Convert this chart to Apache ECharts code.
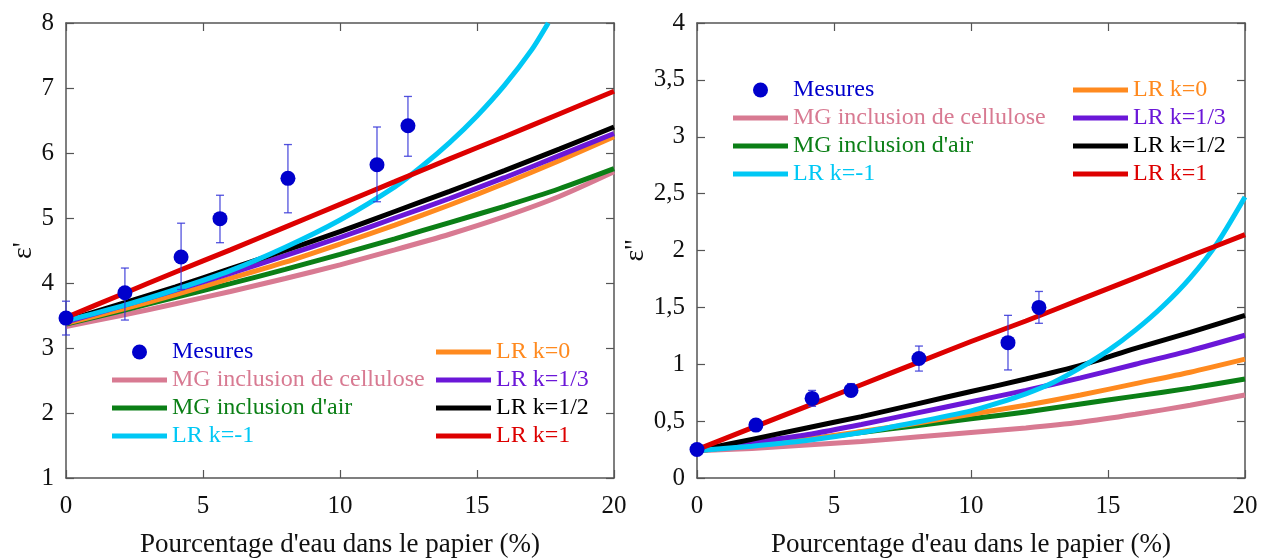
<!DOCTYPE html>
<html>
<head>
<meta charset="utf-8">
<script src="https://cdn.jsdelivr.net/npm/echarts@6/dist/echarts.min.js"></script>
<style>
html,body{margin:0;padding:0;background:#fff;}
#chart{width:1264px;height:558px;}
</style>
</head>
<body>
<div id="chart"></div>
<script>
// ---------- DATA ----------
const xTicks = [0, 5, 10, 15, 20];
const xCurve = [0, 2, 4, 6, 8, 10, 12, 14, 16, 18, 20];

// Measurements: water content (%)
const mesX = [0, 2.15, 4.2, 5.62, 8.1, 11.35, 12.48];
// Left panel: epsilon'
const epsRe = [3.46, 3.85, 4.40, 4.99, 5.61, 5.82, 6.42];
const epsReLo = [3.20, 3.43, 3.90, 4.62, 5.08, 5.25, 5.95];
const epsReHi = [3.72, 4.23, 4.92, 5.35, 6.13, 6.40, 6.87];
// Right panel: epsilon''
const epsIm = [0.25, 0.465, 0.70, 0.77, 1.05, 1.19, 1.50];
const epsImLo = [0.25, 0.43, 0.63, 0.72, 0.94, 0.95, 1.36];
const epsImHi = [0.25, 0.50, 0.77, 0.83, 1.16, 1.43, 1.64];

// Model curves, left panel (epsilon') at xCurve
const reMGcell = [3.33, 3.50, 3.68, 3.87, 4.07, 4.28, 4.51, 4.75, 5.02, 5.33, 5.71];
const reMGair  = [3.37, 3.57, 3.78, 3.99, 4.21, 4.44, 4.68, 4.93, 5.18, 5.45, 5.76];
const reLR0    = [3.38, 3.59, 3.82, 4.07, 4.32, 4.60, 4.89, 5.20, 5.53, 5.88, 6.25];
const reLR13   = [3.40, 3.64, 3.89, 4.15, 4.42, 4.70, 5.00, 5.30, 5.62, 5.96, 6.30];
const reLR12   = [3.42, 3.68, 3.94, 4.22, 4.50, 4.79, 5.10, 5.41, 5.73, 6.06, 6.40];
const reLR1    = [3.47, 3.82, 4.17, 4.51, 4.86, 5.21, 5.56, 5.91, 6.25, 6.60, 6.95];
const reLRm1X  = [0, 2, 4, 6, 8, 10, 12, 13, 14, 15, 16, 17, 17.6];
const reLRm1   = [3.42, 3.64, 3.90, 4.19, 4.55, 4.97, 5.48, 5.80, 6.16, 6.57, 7.04, 7.59, 8.0];

// Model curves, right panel (epsilon'')
const imMGcell = [0.24, 0.26, 0.29, 0.32, 0.36, 0.40, 0.44, 0.49, 0.56, 0.64, 0.73];
const imMGair  = [0.24, 0.29, 0.34, 0.40, 0.46, 0.52, 0.58, 0.65, 0.72, 0.79, 0.87];
const imLR0    = [0.24, 0.29, 0.34, 0.41, 0.48, 0.56, 0.64, 0.73, 0.83, 0.93, 1.045];
const imLR13   = [0.24, 0.31, 0.38, 0.47, 0.57, 0.67, 0.77, 0.88, 1.00, 1.12, 1.255];
const imLR12   = [0.24, 0.34, 0.44, 0.54, 0.65, 0.76, 0.87, 0.99, 1.14, 1.28, 1.43];
const imLR1    = [0.25, 0.44, 0.63, 0.82, 1.01, 1.20, 1.38, 1.57, 1.76, 1.95, 2.14];
const imLRm1X  = [0, 2, 4, 6, 8, 10, 11, 12, 13, 14, 15, 16, 17, 18, 19, 20];
const imLRm1   = [0.24, 0.28, 0.33, 0.40, 0.49, 0.59, 0.66, 0.74, 0.84, 0.97, 1.12, 1.30, 1.51, 1.76, 2.07, 2.47];

const names = {
  mes: 'Mesures', cell: 'MG inclusion de cellulose', air: "MG inclusion d'air",
  m1: 'LR k=-1', k0: 'LR k=0', k13: 'LR k=1/3', k12: 'LR k=1/2', k1: 'LR k=1'
};
const colors = {
  mes: '#0000CC', cell: '#D87A92', air: '#0B7F16', m1: '#00C8F5',
  k0: '#FF8A1F', k13: '#6B17D8', k12: '#000000', k1: '#DD0000'
};

// ---------- BUILD ----------
const FONT = 'Liberation Serif';
const zip = (xs, ys) => xs.map((x, i) => [x, ys[i]]);

function lineSeries(key, xs, ys, gi) {
  return {
    name: names[key], type: 'line', xAxisIndex: gi * 2, yAxisIndex: gi * 2,
    data: zip(xs, ys), showSymbol: false, symbol: 'none', smooth: 0.25,
    lineStyle: { color: colors[key], width: 5 }, itemStyle: { color: colors[key] },
    clip: true, animation: false, z: 2
  };
}
function errSeries(xs, lo, hi, gi) {
  return {
    type: 'custom', xAxisIndex: gi * 2, yAxisIndex: gi * 2, animation: false, z: 3,
    data: xs.map((x, i) => [x, lo[i], hi[i]]),
    renderItem: function (params, api) {
      const p1 = api.coord([api.value(0), api.value(1)]);
      const p2 = api.coord([api.value(0), api.value(2)]);
      const w = 4;
      const st = { stroke: '#3535D8', lineWidth: 1.3, opacity: 0.85 };
      return {
        type: 'group', children: [
          { type: 'line', shape: { x1: p1[0], y1: p1[1], x2: p2[0], y2: p2[1] }, style: st },
          { type: 'line', shape: { x1: p1[0] - w, y1: p1[1], x2: p1[0] + w, y2: p1[1] }, style: st },
          { type: 'line', shape: { x1: p2[0] - w, y1: p2[1], x2: p2[0] + w, y2: p2[1] }, style: st }
        ]
      };
    }
  };
}
function scatterSeries(xs, ys, gi) {
  return {
    name: names.mes, type: 'scatter', xAxisIndex: gi * 2, yAxisIndex: gi * 2,
    data: zip(xs, ys), symbol: 'circle', symbolSize: 15,
    itemStyle: { color: colors.mes, opacity: 1 }, animation: false, z: 4
  };
}

const axisLine = { show: true, onZero: false, lineStyle: { color: '#555', width: 1.5 } };
const tick = { show: true, inside: true, length: 8, lineStyle: { color: '#555', width: 1.2 } };
const labelStyle = { color: '#111', fontSize: 25, fontFamily: FONT };

function xAxes(gi) {
  return [
    { gridIndex: gi, type: 'value', min: 0, max: 20, interval: 5, position: 'bottom',
      axisLine: axisLine, axisTick: tick, splitLine: { show: false },
      axisLabel: Object.assign({ margin: 16 }, labelStyle),
      name: "Pourcentage d'eau dans le papier (%)", nameLocation: 'middle', nameGap: 53,
      nameTextStyle: { color: '#111', fontSize: 27, fontFamily: FONT } },
    { gridIndex: gi, type: 'value', min: 0, max: 20, interval: 5, position: 'top',
      axisLine: axisLine, axisTick: tick, axisLabel: { show: false }, splitLine: { show: false } }
  ];
}
function yAxes(gi, min, max, interval, name, fmt, gap) {
  return [
    { gridIndex: gi, type: 'value', min: min, max: max, interval: interval, position: 'left',
      axisLine: axisLine, axisTick: tick, splitLine: { show: false },
      axisLabel: Object.assign({ margin: 12, formatter: fmt }, labelStyle),
      name: name, nameLocation: 'middle', nameRotate: 90, nameGap: gap,
      nameTextStyle: { color: '#111', fontSize: 28, fontFamily: FONT } },
    { gridIndex: gi, type: 'value', min: min, max: max, interval: interval, position: 'right',
      axisLine: axisLine, axisTick: tick, axisLabel: { show: false }, splitLine: { show: false } }
  ];
}

const lineIcon = 'path://M0,0h55v5h-55z';
function legend(keys, left, top) {
  return {
    orient: 'vertical', left: left, top: top, itemWidth: 55, itemHeight: 15, itemGap: 4,
    padding: 0, selectedMode: false,
    textStyle: { fontSize: 24, fontFamily: FONT },
    data: keys.map(k => ({
      name: names[k], icon: k === 'mes' ? 'circle' : lineIcon,
      textStyle: { color: colors[k], fontSize: 24, fontFamily: FONT }
    }))
  };
}

const option = {
  backgroundColor: '#fff',
  animation: false,
  textStyle: { fontFamily: FONT },
  grid: [
    { left: 66, top: 23, width: 548, height: 455, show: false, outerBoundsMode: 'none', containLabel: false },
    { left: 697, top: 23, width: 548, height: 455, show: false, outerBoundsMode: 'none', containLabel: false }
  ],
  xAxis: xAxes(0).concat(xAxes(1)),
  yAxis: yAxes(0, 1, 8, 1, "ε'", v => String(v), 28)
    .concat(yAxes(1, 0, 4, 0.5, "ε''", v => String(v).replace('.', ','), 32)),
  legend: [
    legend(['mes', 'cell', 'air', 'm1'], 112, 340),
    legend(['k0', 'k13', 'k12', 'k1'], 436, 340),
    legend(['mes', 'cell', 'air', 'm1'], 733, 78),
    legend(['k0', 'k13', 'k12', 'k1'], 1073, 78)
  ],
  series: [
    lineSeries('cell', xCurve, reMGcell, 0),
    lineSeries('air', xCurve, reMGair, 0),
    lineSeries('k0', xCurve, reLR0, 0),
    lineSeries('k13', xCurve, reLR13, 0),
    lineSeries('k12', xCurve, reLR12, 0),
    lineSeries('m1', reLRm1X, reLRm1, 0),
    lineSeries('k1', xCurve, reLR1, 0),
    errSeries(mesX, epsReLo, epsReHi, 0),
    scatterSeries(mesX, epsRe, 0),

    lineSeries('cell', xCurve, imMGcell, 1),
    lineSeries('air', xCurve, imMGair, 1),
    lineSeries('k0', xCurve, imLR0, 1),
    lineSeries('k13', xCurve, imLR13, 1),
    lineSeries('k12', xCurve, imLR12, 1),
    lineSeries('m1', imLRm1X, imLRm1, 1),
    lineSeries('k1', xCurve, imLR1, 1),
    errSeries(mesX.slice(1), epsImLo.slice(1), epsImHi.slice(1), 1),
    scatterSeries(mesX, epsIm, 1)
  ]
};

const chart = echarts.init(document.getElementById('chart'), null, { renderer: 'canvas' });
chart.setOption(option);
</script>
</body>
</html>
